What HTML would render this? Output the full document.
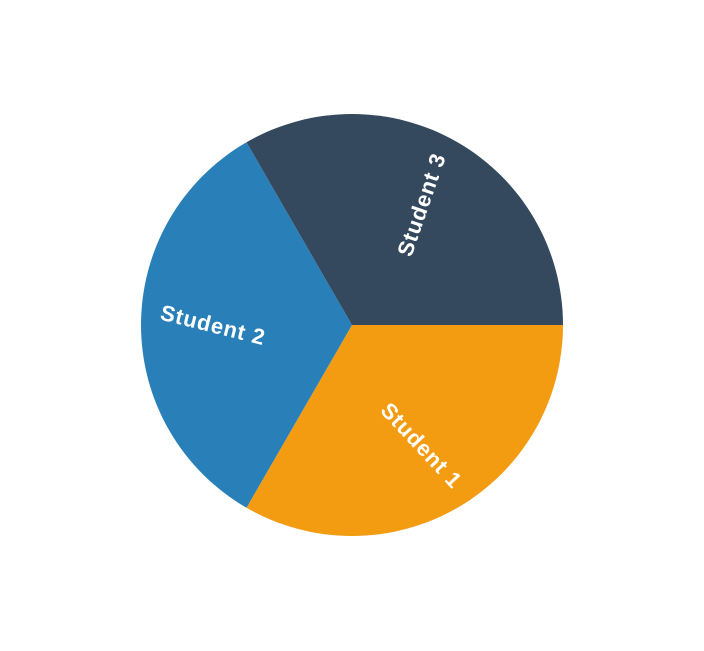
<!DOCTYPE html>
<html>
<head>
<meta charset="utf-8">
<style>
  html,body{margin:0;padding:0;background:#fff;}
  svg{display:block;}
  text{font-family:"Liberation Sans",sans-serif;font-weight:bold;font-size:22px;letter-spacing:0.8px;fill:#fff;}
</style>
</head>
<body>
<svg id="chart" width="704" height="651" viewBox="0 0 704 651"></svg>
<script>
const categories = ["Student 1", "Student 2", "Student 3"];
const values = [1, 1, 1];
const colors = ["#f39c12", "#2980b9", "#34495e"];
const labelTilt = [-13, -166, -11];

const cx = 352, cy = 325, R = 211, labelR = 139;
const svg = document.getElementById('chart');
const NS = 'http://www.w3.org/2000/svg';
const total = values.reduce((a, b) => a + b, 0);
function pt(a, r) { return [cx + r * Math.cos(a), cy + r * Math.sin(a)]; }

let start = 0;
values.forEach((v, i) => {
  const sweep = v / total * Math.PI * 2;
  const end = start + sweep;
  const p0 = pt(start, R), p1 = pt(end, R);
  const large = sweep > Math.PI ? 1 : 0;
  const path = document.createElementNS(NS, 'path');
  path.setAttribute('d', `M${cx},${cy} L${p0[0]},${p0[1]} A${R},${R} 0 ${large} 1 ${p1[0]},${p1[1]} Z`);
  path.setAttribute('fill', colors[i]);
  
  
  svg.appendChild(path);

  const mid = (start + end) / 2;
  const lp = pt(mid, labelR);
  const rot = mid * 180 / Math.PI + labelTilt[i];
  const t = document.createElementNS(NS, 'text');
  t.setAttribute('x', lp[0]);
  t.setAttribute('y', lp[1]);
  t.setAttribute('text-anchor', 'middle');
  t.setAttribute('dominant-baseline', 'central');
  t.setAttribute('transform', `rotate(${rot} ${lp[0]} ${lp[1]})`);
  t.textContent = categories[i];
  
  
  svg.appendChild(t);
  start = end;
});
</script>
</body>
</html>
